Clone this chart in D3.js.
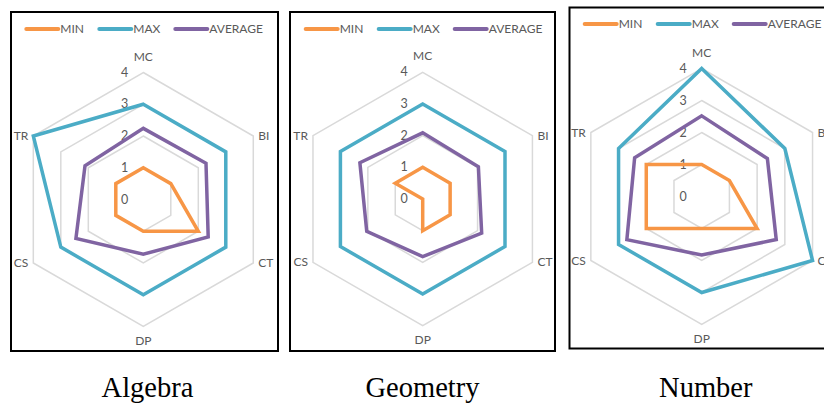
<!DOCTYPE html>
<html><head><meta charset="utf-8">
<script src="https://cdn.jsdelivr.net/npm/d3@7/dist/d3.min.js"></script>
<style>body{margin:0;background:#fff;}svg{display:block;}</style>
</head><body>
<svg id="c" width="824" height="403"></svg>
<script>
const axes = ["MC","BI","CT","DP","CS","TR"];
const seriesNames = ["MIN","MAX","AVERAGE"];
const subjects = ["Algebra","Geometry","Number"];
const tickLabels = [0,1,2,3,4];
const algebraMin = [1,1,2,1,1,1];
const algebraMax = [3,3,3,3,3,4];
const algebraAvg = [2.24,2.28,2.36,1.72,2.45,2.12];
const geometryMin = [1,1,1,1,0,1];
const geometryMax = [3,3,3,3,3,3];
const geometryAvg = [2.09,2.03,2.15,1.82,2.04,2.29];
const numberMin = [1,1,2,1,2,2];
const numberMax = [4,3,4,3,3,3];
const numberAvg = [2.52,2.37,2.69,1.83,2.70,2.42];

const data = [
  [algebraMin, algebraMax, algebraAvg],
  [geometryMin, geometryMax, geometryAvg],
  [numberMin, numberMax, numberAvg]
];
const colors = d3.scaleOrdinal().domain(seriesNames).range(["#F79646","#4BACC6","#8064A2"]);

const panels = [
  {bx:11, by:12, bw:267, bh:339, cx:143.3, cy:199.5, R:127, ly:29, tx:147.5},
  {bx:290, by:12, bw:265, bh:339, cx:422.7, cy:199, R:126.7, ly:29, tx:422.5},
  {bx:569.5, by:7.5, bw:267, bh:341, cx:701.7, cy:196.5, R:128, ly:24, tx:705.8}
];
const svg = d3.select("#c");
const font = "Lato, 'Open Sans', sans-serif";
const grey = "#595959";

panels.forEach((p, pi) => {
  const g = svg.append("g");
  g.append("rect").attr("x", p.bx).attr("y", p.by).attr("width", p.bw).attr("height", p.bh)
    .attr("fill", "#fff").attr("stroke", "#000").attr("stroke-width", 2);
  const r = d3.scaleLinear().domain([0,4]).range([0,p.R]);
  const ang = d3.scaleLinear().domain([0, axes.length]).range([0, 2*Math.PI]);
  const pt = (i, v) => [p.cx + r(v)*Math.sin(ang(i)), p.cy - r(v)*Math.cos(ang(i))];
  const line = d3.line().x(d => d[0]).y(d => d[1]).curve(d3.curveLinearClosed);

  // grid rings
  tickLabels.filter(t => t > 0).forEach(t => {
    g.append("path").attr("d", line(axes.map((a,i) => pt(i,t))))
      .attr("fill","none").attr("stroke","#D9D9D9").attr("stroke-width",1.5);
  });
  // tick labels
  tickLabels.forEach(t => {
    g.append("text").attr("x", p.cx - 15).attr("y", p.cy - r(t) + 1)
      .attr("text-anchor","end").attr("dominant-baseline","middle")
      .attr("font-family", font).attr("font-size", 12.5).attr("fill", grey).text(t);
  });
  // series
  data[pi].forEach((vals, si) => {
    g.append("path").attr("d", line(vals.map((v,i) => pt(i,v))))
      .attr("fill","none").attr("stroke", colors(seriesNames[si]))
      .attr("stroke-width",3.5).attr("stroke-linejoin","miter");
  });
  // axis labels
  axes.forEach((a, i) => {
    const [x, y] = pt(i, 4);
    const s = Math.sin(ang(i)), c = Math.cos(ang(i));
    let tx = x, ty = y, anchor = "middle";
    if (Math.abs(s) < 0.01) { ty = y - c*15; }
    else { tx = x + (s > 0 ? 5 : -5); anchor = s > 0 ? "start" : "end"; ty = y + 1; }
    g.append("text").attr("x", tx).attr("y", ty).attr("text-anchor", anchor)
      .attr("dominant-baseline","middle").attr("font-family", font)
      .attr("font-size", 12).attr("fill", grey).text(a);
  });
  // legend
  const lx = [p.cx - 117, p.cx - 44, p.cx + 32];
  seriesNames.forEach((s, si) => {
    g.append("line").attr("x1", lx[si]).attr("x2", lx[si] + 32)
      .attr("y1", p.ly).attr("y2", p.ly).attr("stroke", colors(s))
      .attr("stroke-width", 4).attr("stroke-linecap","round");
    g.append("text").attr("x", lx[si] + 34).attr("y", p.ly + 1)
      .attr("dominant-baseline","middle").attr("font-family", font)
      .attr("font-size", 12).attr("fill", grey).text(s);
  });
  // title
  svg.append("text").attr("x", p.tx).attr("y", 397).attr("text-anchor","middle")
    .attr("font-family","'Liberation Serif', 'Times New Roman', serif")
    .attr("font-size", 28.5).attr("fill","#000").text(subjects[pi]);
});
</script>
</body></html>
